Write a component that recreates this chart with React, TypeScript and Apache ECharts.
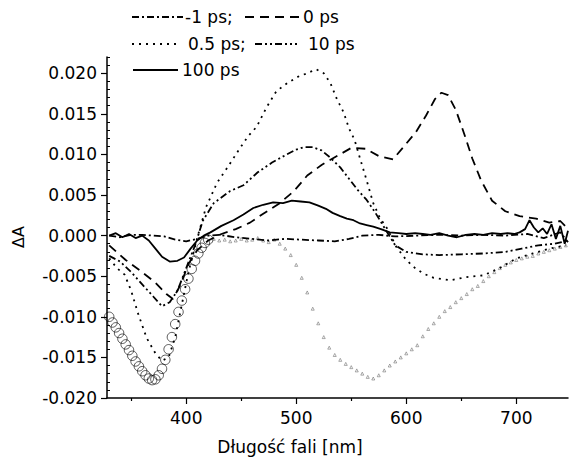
import React, { useEffect, useRef } from "react";
import * as echarts from "echarts";

const FONT = "'DejaVu Sans', 'Liberation Sans', sans-serif";

// axis ticks
const xMajorTicks = [400, 500, 600, 700];
const xMinorTicks = [350, 450, 550, 650];
const yMajorTicks = [-0.02, -0.015, -0.01, -0.005, 0, 0.005, 0.01, 0.015, 0.02];
const yMinorTicks: number[] = [];
for (let k = -19; k <= 22; k++) if (k % 5 !== 0) yMinorTicks.push(k / 1000);

// -1 ps (dash-dot)
const wlM1 = [330, 340, 350, 360, 370, 380, 390, 400, 410, 420, 430, 445, 460, 475, 490, 505, 520, 535, 548, 560, 575, 590, 610, 630, 650, 670, 690, 710, 725, 740, 747];
const dAM1 = [0.0, -0.0002, 0.0001, 0.0001, 0.0, -0.0001, -0.0005, -0.0007, -0.0004, 0.0, 0.0001, -0.0002, -0.0004, -0.0006, -0.0004, -0.0005, -0.0006, -0.0007, -0.0004, 0.0, 0.0001, -0.0001, 0.0, 0.0001, 0.0, 0.0001, 0.0, 0.0002, -0.0003, 0.0004, -0.0008];

// 0 ps (dashed)
const wl0 = [330, 345, 360, 372, 382, 388, 395, 402, 410, 420, 432, 445, 458, 470, 485, 498, 510, 523, 537, 550, 563, 575, 588, 598, 609, 618, 626, 632, 638, 645, 653, 660, 668, 678, 690, 703, 718, 730, 740, 747];
const dA0 = [-0.0012, -0.003, -0.0045, -0.0058, -0.0072, -0.0078, -0.006, -0.0035, -0.0018, -0.0006, 0.0002, 0.0008, 0.0016, 0.0027, 0.004, 0.0055, 0.0074, 0.0087, 0.0098, 0.0108, 0.0107, 0.0098, 0.0094, 0.011, 0.0128, 0.0148, 0.0168, 0.0176, 0.0173, 0.0155, 0.0124, 0.0095, 0.0068, 0.0043, 0.003, 0.0024, 0.0021, 0.0016, 0.0018, 0.0008];

// 0.5 ps (dotted)
const wl05 = [330, 337, 344, 350, 356, 364, 372, 378, 384, 390, 396, 402, 410, 418, 428, 438, 448, 456, 464, 473, 482, 492, 502, 510, 518, 525, 531, 537, 543, 548, 553, 558, 564, 570, 576, 583, 591, 600, 608, 616, 625, 640, 655, 670, 685, 700, 715, 730, 745];
const dA05 = [-0.0028, -0.004, -0.0048, -0.0068, -0.0095, -0.0126, -0.0145, -0.0154, -0.015, -0.0125, -0.0085, -0.0045, -0.0003, 0.0035, 0.0065, 0.0085, 0.0106, 0.0122, 0.0134, 0.0158, 0.0178, 0.0188, 0.0196, 0.02, 0.0205, 0.02, 0.0188, 0.0168, 0.0152, 0.0132, 0.0118, 0.0095, 0.0068, 0.004, 0.0022, 0.0008, -0.0014, -0.003, -0.004, -0.0047, -0.0052, -0.0055, -0.0051, -0.0049, -0.004, -0.0028, -0.0022, -0.0016, -0.0012];

// 10 ps (dash-dot-dot)
const wl10 = [330, 340, 350, 360, 370, 378, 385, 392, 400, 408, 415, 425, 440, 452, 465, 478, 490, 500, 507, 515, 523, 531, 540, 548, 556, 564, 572, 580, 590, 600, 615, 630, 650, 670, 690, 705, 720, 735, 747];
const dA10 = [-0.0025, -0.0032, -0.0045, -0.006, -0.0075, -0.0087, -0.0082, -0.0068, -0.004, -0.0012, 0.0018, 0.004, 0.0055, 0.0062, 0.0078, 0.009, 0.0099, 0.0106, 0.0109, 0.0109, 0.0105, 0.0096, 0.0084, 0.007, 0.0056, 0.0044, 0.0028, 0.001, -0.0012, -0.002, -0.0023, -0.0024, -0.0023, -0.0022, -0.002, -0.0016, -0.0012, -0.001, -0.0006];

// 100 ps (solid)
const wl100 = [330, 336, 342, 348, 354, 360, 366, 372, 378, 385, 392, 398, 404, 410, 416, 422, 432, 443, 452, 461, 470, 479, 488, 496, 504, 512, 520, 527, 533, 540, 546, 552, 558, 564, 570, 577, 585, 593, 600, 608, 615, 622, 630, 638, 646, 654, 662, 670, 678, 686, 692, 698, 703, 708, 712, 716, 720, 724, 728, 732, 736, 740, 744, 747];
const dA100 = [0.0, 0.0003, -0.0002, 0.0002, -0.0003, 0.0, -0.0006, -0.0016, -0.0026, -0.0032, -0.0031, -0.0027, -0.0016, -0.0006, 0.0, 0.0004, 0.0012, 0.0019, 0.0026, 0.0034, 0.0038, 0.0041, 0.004, 0.0043, 0.0042, 0.0041, 0.0037, 0.0033, 0.0028, 0.0024, 0.0021, 0.0019, 0.0015, 0.0013, 0.0011, 0.0008, 0.0004, 0.0003, 0.0002, 0.0003, 0.0002, 0.0001, 0.0003, 0.0, -0.0002, 0.0001, 0.0002, 0.0001, 0.0003, 0.0002, 0.0003, 0.0002, 0.0004, 0.0008, 0.0019, 0.001, 0.0004, 0.0009, 0.0002, 0.0014, -0.0004, 0.0012, -0.001, 0.0006];

// steady-state reference (circles)
const wlCirc = [330, 333, 336, 339, 342, 345, 348, 351, 354, 357, 360, 363, 366, 369, 372, 375, 378, 381, 384, 387, 390, 393, 396, 399, 402, 405, 408, 411, 414, 417, 420];
const dACirc = [-0.01, -0.0107, -0.0113, -0.012, -0.0127, -0.0134, -0.0141, -0.0148, -0.0155, -0.0161, -0.0167, -0.0172, -0.0176, -0.0178, -0.0177, -0.0172, -0.0164, -0.0153, -0.014, -0.0125, -0.0109, -0.0094, -0.008, -0.0066, -0.0053, -0.0041, -0.0031, -0.0022, -0.0015, -0.0009, -0.0005];

// steady-state reference (triangles)
const wlTri = [425, 430, 435, 440, 445, 450, 455, 460, 465, 470, 475, 480, 485, 490, 495, 500, 505, 510, 515, 520, 525, 530, 535, 540, 545, 550, 555, 560, 565, 570, 575, 580, 585, 590, 595, 600, 605, 610, 615, 620, 625, 630, 635, 640, 645, 650, 655, 660, 665, 670, 675, 680, 685, 690, 695, 700, 705, 710, 715, 720, 725, 730, 735, 740, 745];
const dATri = [-0.0004, -0.0006, -0.0005, -0.0007, -0.0006, -0.0004, -0.0006, -0.0005, -0.0003, -0.0006, -0.0008, -0.0005, -0.001, -0.0016, -0.0024, -0.0036, -0.0052, -0.007, -0.009, -0.0108, -0.0125, -0.0138, -0.0147, -0.0153, -0.0158, -0.0162, -0.0166, -0.017, -0.0174, -0.0176, -0.0172, -0.0166, -0.016, -0.0155, -0.015, -0.0145, -0.014, -0.0135, -0.0124, -0.0115, -0.0108, -0.01, -0.0093, -0.0088, -0.0082, -0.0077, -0.0072, -0.0066, -0.0062, -0.0056, -0.005, -0.0045, -0.004, -0.0036, -0.0033, -0.003, -0.0028, -0.0026, -0.0025, -0.0022, -0.002, -0.0018, -0.0016, -0.0014, -0.0012];

const pairs = (xs: number[], ys: number[]) => xs.map((x, i) => [x, ys[i]]);

const DASH_DOT = [7, 3, 2, 3];
const DASHED = [9, 6];
const DOTTED = [2, 5];
const DASH_DOT_DOT = [7, 3, 2, 3, 2, 3];
const LW = 1.8;

export default function App() {
  const ref = useRef<HTMLDivElement>(null);
  useEffect(() => {
    if (!ref.current) return;
    const chart = echarts.init(ref.current, undefined, { renderer: "svg" });
    const lineSeries = (name: string, xs: number[], ys: number[], type: any) => ({
      name,
      type: "line",
      data: pairs(xs, ys),
      showSymbol: false,
      symbol: "none",
      z: 5,
      lineStyle: { color: "#000", width: LW, type },
    });
    const legendText = (x: number, y: number, text: string) => ({
      type: "text",
      x,
      y,
      style: { text, font: `17px ${FONT}`, fill: "#000", verticalAlign: "middle", align: "left" },
    });
    const legendLine = (x1: number, x2: number, y: number, dash: number[] | null) => ({
      type: "line",
      shape: { x1, y1: y, x2, y2: y },
      style: { stroke: "#000", lineWidth: LW, lineDash: dash || undefined },
    });
    chart.setOption({
      animation: false,
      backgroundColor: "#fff",
      grid: { left: 107, right: 1, top: 57, bottom: 59, containLabel: false },
      xAxis: [
        {
          type: "value",
          min: 328,
          max: 747,
          axisLine: { show: true, onZero: false, lineStyle: { color: "#000", width: 1.5 } },
          axisTick: { show: true, customValues: xMajorTicks, length: 6, lineStyle: { color: "#000", width: 1.2 } },
          axisLabel: { customValues: xMajorTicks, color: "#000", fontSize: 17, fontFamily: FONT, margin: 11 },
          splitLine: { show: false },
        },
        {
          type: "value",
          min: 328,
          max: 747,
          position: "bottom",
          axisLine: { show: false, onZero: false },
          axisTick: { show: true, customValues: xMinorTicks, length: 3, lineStyle: { color: "#000", width: 1.2 } },
          axisLabel: { show: false },
          splitLine: { show: false },
        },
      ],
      yAxis: [
        {
          type: "value",
          min: -0.02,
          max: 0.022,
          axisLine: { show: true, onZero: false, lineStyle: { color: "#000", width: 1.5 } },
          axisTick: { show: true, customValues: yMajorTicks, length: 6, lineStyle: { color: "#000", width: 1.2 } },
          axisLabel: {
            customValues: yMajorTicks,
            color: "#000",
            fontSize: 17,
            fontFamily: FONT,
            margin: 10,
            formatter: (v: number) => (Math.abs(v) < 1e-9 ? "0.000" : v.toFixed(3)),
          },
          splitLine: { show: false },
        },
        {
          type: "value",
          min: -0.02,
          max: 0.022,
          position: "left",
          axisLine: { show: false, onZero: false },
          axisTick: { show: true, inside: true, customValues: yMinorTicks, length: 3, lineStyle: { color: "#000", width: 1 } },
          axisLabel: { show: false },
          splitLine: { show: false },
        },
      ],
      series: [
        {
          name: "ref-circles",
          type: "scatter",
          data: pairs(wlCirc, dACirc),
          symbol: "circle",
          symbolSize: 9.5,
          z: 3,
          itemStyle: { color: "rgba(255,255,255,0)", borderColor: "#000", borderWidth: 0.8 },
        },
        {
          name: "ref-triangles",
          type: "scatter",
          data: pairs(wlTri, dATri),
          symbol: "triangle",
          symbolSize: 3,
          z: 3,
          itemStyle: { color: "rgba(255,255,255,0)", borderColor: "#666", borderWidth: 0.7 },
        },
        lineSeries("-1 ps", wlM1, dAM1, DASH_DOT),
        lineSeries("0 ps", wl0, dA0, DASHED),
        lineSeries("0.5 ps", wl05, dA05, DOTTED),
        lineSeries("10 ps", wl10, dA10, DASH_DOT_DOT),
        lineSeries("100 ps", wl100, dA100, "solid"),
      ],
      graphic: [
        legendLine(132, 183, 17, DASH_DOT),
        legendText(185, 17, "-1 ps;"),
        legendLine(245, 300, 17, DASHED),
        legendText(303, 17, "0 ps"),
        legendLine(132, 178, 44, DOTTED),
        legendText(188, 44, "0.5 ps;"),
        legendLine(255, 297, 44, DASH_DOT_DOT),
        legendText(308, 44, "10 ps"),
        legendLine(133, 178, 70, null),
        legendText(182, 70, "100 ps"),
        {
          type: "text",
          x: 18,
          y: 237,
          rotation: Math.PI / 2,
          style: { text: "ΔA", font: `16px ${FONT}`, fill: "#000", align: "center", verticalAlign: "middle" },
        },
        {
          type: "text",
          x: 290,
          y: 447,
          style: { text: "Długość fali [nm]", font: `17px ${FONT}`, fill: "#000", align: "center", verticalAlign: "middle" },
        },
      ],
    });
    return () => chart.dispose();
  }, []);
  return <div ref={ref} style={{ width: 569, height: 457, position: "absolute", left: 0, top: 0 }} />;
}
